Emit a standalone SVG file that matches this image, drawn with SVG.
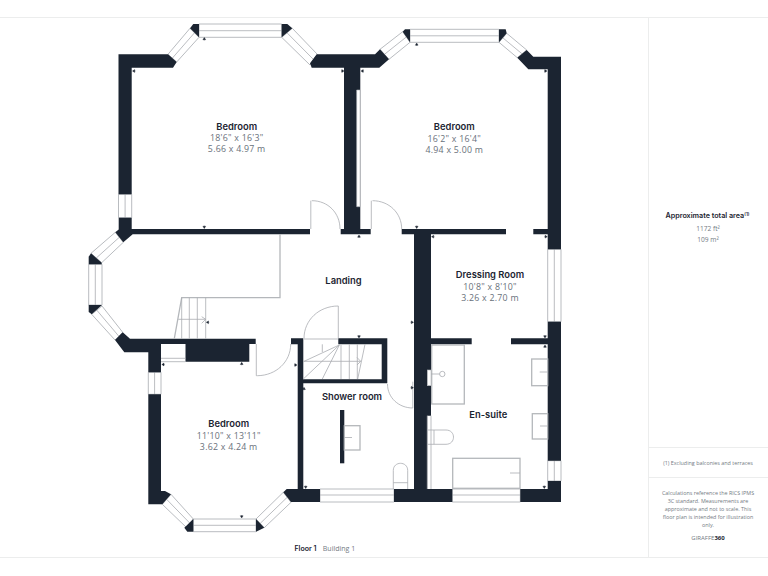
<svg xmlns="http://www.w3.org/2000/svg" xmlns:xlink="http://www.w3.org/1999/xlink" width="768" height="576" viewBox="0 0 768 576">
<style>
.w{fill:#1b2431;stroke:none}
.win{fill:#fff;stroke:#b9bcc0;stroke-width:1}
.l{fill:none;stroke:#a9acb1;stroke-width:.8}
.g{fill:none;stroke:#b4b7bb;stroke-width:1.3}
.fr{fill:none;stroke:#eceded;stroke-width:1}
.t{font-family:"Inter","Liberation Sans",sans-serif;font-weight:600;font-size:9.4px;fill:#1b2431;text-anchor:middle}
.d{font-family:"Open Sans","Liberation Sans",sans-serif;font-size:8.8px;letter-spacing:.25px;fill:#69717b;text-anchor:middle}
.s{font-family:"Open Sans","Liberation Sans",sans-serif;font-size:5.4px;fill:#737a83;text-anchor:middle}
</style>
<defs>
<path id="k" d="M0 0L-1.4 2.2L1.4 2.2ZM0 2L0 3" fill="#1b2431" stroke="#1b2431" stroke-width=".4"/>
</defs>
<rect width="768" height="576" fill="#fff"/>
<g id="frame">
<path class="fr" d="M0 17.5H768M0 557.5H768M648.5 17.5V557.5M648.5 447.5H768M648.5 477.5H768"/>
</g>
<g id="windows">
<path class="win" d="M199 24H281.7V37.3H199Z"/><path class="l" d="M199 30.7H281.7"/>
<path class="win" d="M168 54.3L176.7 62L199 37.3L190 28.3Z"/><path class="l" d="M172.3 58.2L194.5 32.8"/>
<path class="win" d="M281.7 37.3L292.3 28.3L317.3 54.3L310 65Z"/><path class="l" d="M287 32.8L313.6 59.6"/>
<path class="win" d="M118.5 194.3H131.7V217.7H118.5Z"/><path class="l" d="M125.1 194.3V217.7"/>
<path class="win" d="M115.3 232.3L123.3 242.3L101.7 262.7L91 253.3Z"/><path class="l" d="M119.3 237.3L96.3 258"/>
<path class="win" d="M88.7 264.3H102V305H88.7Z"/><path class="l" d="M95.3 264.3V305"/>
<path class="win" d="M91.7 314.3L102 306L122.7 332.3L115 340Z"/><path class="l" d="M96.8 310.2L118.8 336.2"/>
<path class="win" d="M148.3 372.3H161V394.3H148.3Z"/><path class="l" d="M154.6 372.3V394.3"/>
<path class="win" d="M162.3 504.3L171 494.3L193.3 519L186.7 527.7Z"/><path class="l" d="M166.6 499.3L190 523.3"/>
<path class="win" d="M193.3 519H256V531.7H193.3Z"/><path class="l" d="M193.3 525.3H256"/>
<path class="win" d="M256 519L283.3 492.3L291 502.3L264.3 527.7Z"/><path class="l" d="M260.2 523.4L287.2 497.3"/>
<path class="win" d="M320 489H394V502H320Z"/><path class="l" d="M320 495H394"/>
<path class="win" d="M410 29.3H499V42.3H410Z"/><path class="l" d="M410 35.8H499"/>
<path class="win" d="M380 49.3L389 59.3L410 42.3L402.7 31.7Z"/><path class="l" d="M384.5 54.3L406.3 37"/>
<path class="win" d="M499 42.3L506.7 33.3L526.7 50L517.3 57.7Z"/><path class="l" d="M502.8 37.8L522 53.8"/>
<path class="win" d="M547.7 249.3H561V321.7H547.7Z"/><path class="l" d="M554.3 249.3V321.7"/>
<path class="win" d="M547.7 460.7H561V481H547.7Z"/><path class="l" d="M554.3 460.7V481"/>
<path class="win" d="M452.3 489H520.3V502H452.3Z"/><path class="l" d="M452.3 495H520.3"/>
</g>
<g id="walls">
<path class="w" d="M118.5 54.3H168L176.7 62L173 67.7H131.7V194.3H118.5Z"/>
<path class="w" d="M199 24H193.3L190 28.3L199 37.3Z"/>
<path class="w" d="M281.7 24H287.3L292.3 28.3L281.7 37.3Z"/>
<path class="w" d="M118.7 217.7H131.7V229H310V234.3H132.7L123.3 242.3L115.3 232.3L118.7 229.5Z"/>
<path class="w" d="M91 253.3L101.7 262.7V264.3H88.7V256.7Z"/>
<path class="w" d="M88.7 305H102L91.7 314.3L88.7 312Z"/>
<path class="w" d="M122.7 332.3L130 338.7H255.7V344H249.3V361.7H185.3V344H161V372.3H148.3V352.3H124.3L115 340Z"/>
<path class="w" d="M148.3 394.3H161V491H165L171 494.3L162.3 504.3H148.3Z"/>
<path class="w" d="M193.3 519V531.7H187.3L184.3 527.7Z"/>
<path class="w" d="M256 519L264.3 527.7L256 531.7Z"/>
<path class="w" d="M283.3 492.3L286.7 489H297.7V344.3H291V338.3H303.3V379.3H381.7V344.3H338.3V338.3H387.3V383.3H303.3V489H320V502H291Z"/>
<path class="w" d="M316.7 54.3H375L380 49.3L389 59.3L379.3 67.7H360.3V229H370.7V234.3H340.7V229H344V67.7H311.7L310 63.3Z"/>
<path class="w" d="M402.7 31.7L405 29.3H410V42.3Z"/>
<path class="w" d="M499 29.3H505.7L506.7 33.3L499 42.3Z"/>
<path class="w" d="M526.7 50L533.3 56.7H561V249.3H547.7V234.3H533.3V229H547.7V69.3H528.3L517.3 57.7Z"/>
<path class="w" d="M401.7 229H506V234.3H431V338.3H471.7V344.3H431V415.7H427.3V489H452.3V502H394V489H414V234.3H401.7Z"/>
<path class="w" d="M511 338.3H547.7V321.7H561V460.7H547.7V344.3H511Z"/>
<path class="w" d="M547.7 481H561V502H520.3V489H547.7Z"/>
<path class="w" d="M340 410H344.3V463.3H340Z"/>
</g>
<g id="fixtures">
<path d="M356.7 90H360V206.7H356.7Z" fill="#fff" stroke="#b4b7bb" stroke-width=".6"/>
<rect x="161" y="344" width="24.3" height="17.7" fill="#fff"/>
<path class="l" d="M161 358.3H185.3M161 361.7H185.3"/>
<path class="l" d="M310.8 200.7V229M311.8 200.7H312C328 200.7 340 213 340 229"/>
<path class="l" d="M371.3 200.7V229M372.5 200.7C389 200.7 401.7 213 401.7 229"/>
<path class="l" d="M256.3 344V375.7H257.5C276 375.5 290.7 362 290.7 344"/>
<path class="l" d="M338.3 306V338M338.3 306C319 306 304 320 304 338.5"/>
<path class="l" d="M412.8 381.7V408M412.8 408C399 408 387.5 398 387.5 384"/>
<path d="M280 234V297.7H181.7L174.3 338.7" fill="none" stroke="#b4b7bb" stroke-width="1.3"/>
<path class="l" d="M181.7 297.7V338.7M189.3 297.7V338.7M197.3 297.7V338.7M205.7 297.7V338.7M178.3 319.3H205.7M201.7 316.7L205.7 319.3L201.7 323.3"/>
<path class="l" d="M339.3 345L303.3 361.7M339.3 345L303.3 379M339.3 345L322.3 379M322.3 344.3V352M341 345V379M349.3 344.3V379M357.3 344.3V379M365 344.3L357.7 379M303.3 361.3H360.7M357 357.5L360.7 361.3L357 365"/>
<path class="l" d="M304 339H338"/>
<rect x="344.3" y="425.7" width="15.7" height="24.3" class="g"/>
<path class="l" d="M344.3 437.5H352"/>
<path class="l" d="M393.3 489V470.5C393.3 460.9 407.7 460.9 407.7 470.5V489M393.3 482.7H407.7"/>
<rect x="431.7" y="345" width="32.6" height="59" class="g"/>
<rect x="427.3" y="370" width="3.7" height="15.7" fill="#fff" stroke="#b4b7bb" stroke-width=".6"/>
<path class="l" d="M431 374H439.7"/>
<circle cx="442.3" cy="374" r="2.7" class="l"/>
<rect x="531.7" y="359" width="16" height="26.7" class="g"/>
<path class="l" d="M539.7 372H547.7"/>
<rect x="532.3" y="413.7" width="15.4" height="25.3" class="g"/>
<path class="l" d="M540 426H547.7"/>
<path class="l" d="M427.3 415.7V489M431 415.7V489"/>
<path class="l" d="M427.3 430H446C456 430 456 444.3 446 444.3H427.3M434 430V444.3"/>
<rect x="452.7" y="458.3" width="67.3" height="30" class="g"/>
<path class="l" d="M510 473H520"/>
</g>
<g id="ticks">
<use href="#k" transform="translate(204.3 37.5)"/>
<use href="#k" transform="translate(132.5 71) rotate(-90)"/>
<use href="#k" transform="translate(204.3 228.5) rotate(180)"/>
<use href="#k" transform="translate(344 71) rotate(90)"/>
<use href="#k" transform="translate(361 71) rotate(-90)"/>
<use href="#k" transform="translate(416.7 43)"/>
<use href="#k" transform="translate(547 71) rotate(90)"/>
<use href="#k" transform="translate(416.7 228.5) rotate(180)"/>
<use href="#k" transform="translate(431.5 236.7) rotate(-90)"/>
<use href="#k" transform="translate(547.3 236.7) rotate(90)"/>
<use href="#k" transform="translate(359 235)"/>
<use href="#k" transform="translate(206.3 322.3) rotate(-90)"/>
<use href="#k" transform="translate(161.8 364.5) rotate(-90)"/>
<use href="#k" transform="translate(241.7 362.3)"/>
<use href="#k" transform="translate(297 365) rotate(90)"/>
<use href="#k" transform="translate(304 387.3)"/>
<use href="#k" transform="translate(359 338) rotate(180)"/>
<use href="#k" transform="translate(413.5 322.3) rotate(90)"/>
<use href="#k" transform="translate(413.5 387.7) rotate(90)"/>
<use href="#k" transform="translate(305.7 488.5) rotate(180)"/>
<use href="#k" transform="translate(241.7 518) rotate(180)"/>
<use href="#k" transform="translate(545 338) rotate(180)"/>
<use href="#k" transform="translate(545 345)"/>
<use href="#k" transform="translate(544.3 488.5) rotate(180)"/>
</g>
<g id="labels">
<text class="t" x="236.7" y="129.5">Bedroom</text>
<text class="d" x="236.7" y="141">18'6" x 16'3"</text>
<text class="d" x="236.7" y="152">5.66 x 4.97 m</text>
<text class="t" x="454.3" y="130">Bedroom</text>
<text class="d" x="454.3" y="142">16'2" x 16'4"</text>
<text class="d" x="454.3" y="153">4.94 x 5.00 m</text>
<text class="t" x="343.5" y="284">Landing</text>
<text class="t" x="490" y="277.5">Dressing Room</text>
<text class="d" x="490" y="290">10'8" x 8'10"</text>
<text class="d" x="490" y="300.5">3.26 x 2.70 m</text>
<text class="t" x="352" y="400">Shower room</text>
<text class="t" x="488.3" y="417.7">En-suite</text>
<text class="t" x="228.7" y="426.5">Bedroom</text>
<text class="d" x="228.7" y="438.8">11'10" x 13'11"</text>
<text class="d" x="228.7" y="449.5">3.62 x 4.24 m</text>
<text class="t" x="305.5" y="550.5" style="font-size:7px">Floor 1</text>
<text class="s" x="339" y="550.5" style="font-size:7px">Building 1</text>
<text class="t" x="707.5" y="218" style="font-size:7.2px">Approximate total area<tspan dy="-2.5" style="font-size:4.5px">(1)</tspan></text>
<text class="s" x="708" y="231" style="font-size:6.6px">1172 ft²</text>
<text class="s" x="708" y="241.5" style="font-size:6.6px">109 m²</text>
<text class="s" x="708" y="464.5">(1) Excluding balconies and terraces</text>
<text class="s" x="708" y="494.5">Calculations reference the RICS IPMS</text>
<text class="s" x="708" y="502.5">3C standard. Measurements are</text>
<text class="s" x="708" y="510.5">approximate and not to scale. This</text>
<text class="s" x="708" y="518.5">floor plan is intended for illustration</text>
<text class="s" x="708" y="526.5">only.</text>
<text class="s" x="708" y="540" style="font-size:6px">GIRAFFE<tspan style="font-weight:700;fill:#1b2431">360</tspan></text>
</g>
</svg>
